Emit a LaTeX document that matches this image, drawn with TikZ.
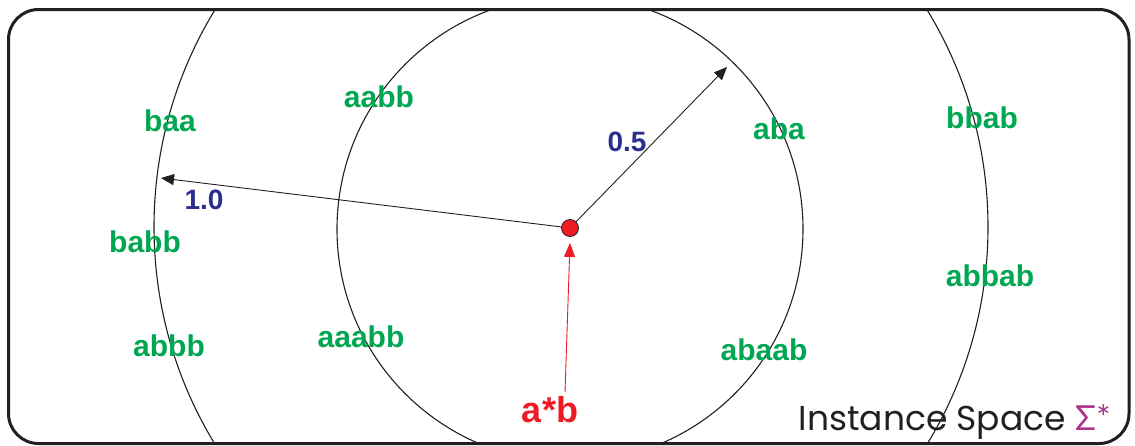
\documentclass[tikz,border=0pt]{standalone}
\usepackage{fontspec}
\setmainfont{Liberation Sans}
\newfontfamily\thinfont{Poppins}
\newfontfamily\greekfont{Lato}
\usetikzlibrary{arrows.meta}
\definecolor{lblgreen}{RGB}{0,166,81}
\definecolor{numblue}{RGB}{43,46,140}
\definecolor{redc}{RGB}{237,28,36}
\definecolor{magc}{RGB}{170,50,140}
\definecolor{framec}{RGB}{35,31,32}
\tikzset{
  word/.style={text=lblgreen, font=\bfseries\fontsize{30}{30}\selectfont, inner sep=0pt},
  numlbl/.style={text=numblue, font=\bfseries\fontsize{28}{28}\selectfont, inner sep=0pt},
  ring/.style={draw=framec, line width=1.1pt},
  radius arrow/.style={draw=framec, line width=0.9pt, -{Triangle[length=13pt,width=11pt]}},
}
\begin{document}
\begin{tikzpicture}[x=1pt,y=-1pt]
\useasboundingbox (0,0) rectangle (1135,445);
\begin{scope}
  \clip[rounded corners=30pt] (8.5,9.5) rectangle (1129,443.5);
  \draw[ring] (570,229) circle[radius=233];
  \draw[ring] (571,227) circle[radius=417];
\end{scope}
\draw[draw=framec, line width=3pt, rounded corners=30pt] (8.5,9.5) rectangle (1129,443.5);

\node[word] (baa) at (170,121) {baa};
\node[word] (aabb) at (379,97) {aabb};
\node[word] (aba) at (779,129) {aba};
\node[word] (bbab) at (982,118) {bbab};
\node[word] (babb) at (145,242) {babb};
\node[word] (abbab) at (990,276) {abbab};
\node[word] (abbb) at (169,346) {abbb};
\node[word] (aaabb) at (361,337) {aaabb};
\node[word] (abaab) at (764,350) {abaab};

\node[numlbl] (one) at (204,200) {1.0};
\node[numlbl] (half) at (627,142) {0.5};

\coordinate (c) at (570,228);
\coordinate (tipA) at (727,67);
\coordinate (tipB) at (161,178);
\draw[radius arrow] (c) -- (tipA);
\draw[radius arrow] (c) -- (tipB);
\node[circle, draw=framec, line width=0.8pt, fill=redc, minimum size=17pt, inner sep=0pt] (dot) at (c) {};

\node[text=redc, font=\bfseries\fontsize{36}{36}\selectfont, inner sep=0pt] (ab) at (550,410) {a*b};
\draw[draw=redc, line width=0.9pt, -{Triangle[length=14pt,width=11pt]}] (565,392) -- ([yshift=-6pt]dot.south);

\node[anchor=east, text=framec, inner sep=0pt, font=\thinfont\fontsize{34.5}{34.5}\selectfont] (space) at (1111,422) {Instance Space {\greekfont\color{magc}Σ*}};
\end{tikzpicture}
\end{document}
